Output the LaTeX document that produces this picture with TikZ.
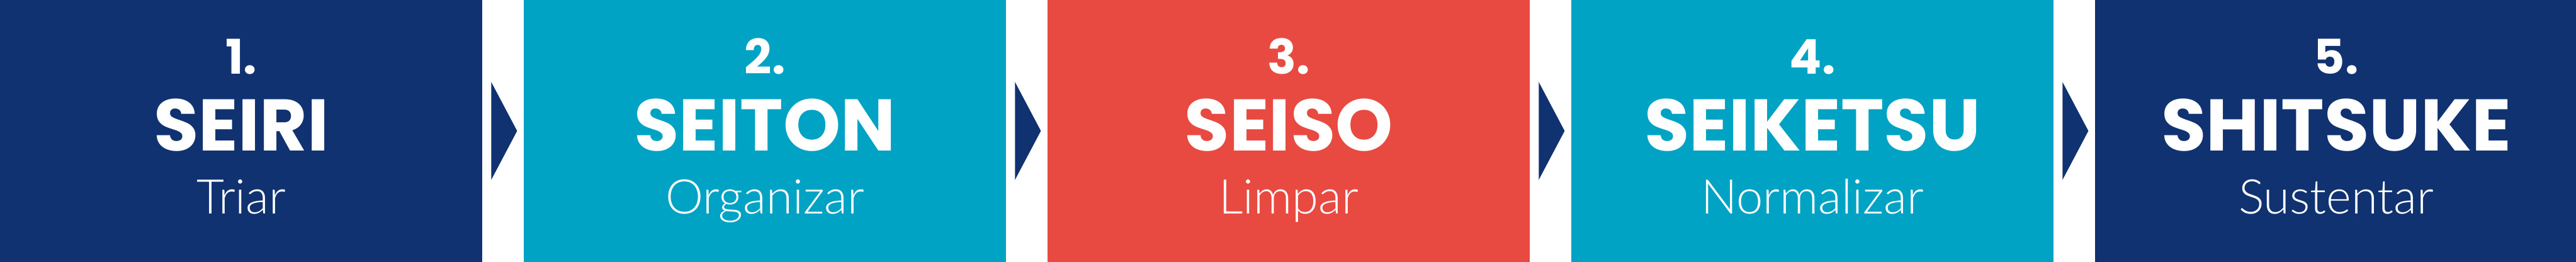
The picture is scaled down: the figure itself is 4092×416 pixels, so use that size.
\documentclass[tikz,border=0pt]{standalone}
\usepackage{fontspec}
\setmainfont{Poppins}
\newfontfamily\lightfont{Lato Light}
\usetikzlibrary{math,positioning,calc}
\definecolor{navyS}{RGB}{17,50,113}
\definecolor{tealS}{RGB}{0,163,196}
\definecolor{redS}{RGB}{232,74,66}

\begin{document}
\begin{tikzpicture}[x=0.01cm,y=0.01cm,
    box/.style={minimum width=7.66cm, minimum height=4.16cm, inner sep=0pt, outer sep=0pt},
    num/.style={text=white, anchor=base, inner sep=0pt, font=\bfseries\fontsize{21.6}{24}\selectfont},
    word/.style={text=white, anchor=base, inner sep=0pt, font=\bfseries\fontsize{33}{36}\selectfont},
    sub/.style={text=white, anchor=base, inner sep=0pt, font=\lightfont\fontsize{21.6}{24}\selectfont}]
      \tikzmath{\gapw = 0.655; \numy = 298; \wordy = 176; \suby = 76; \arrx = 14; \tipx = 55; \arrh = 77.5;}
      \useasboundingbox (0,0) rectangle (4092,416);
      % the five boxes
      \node[box, fill=navyS, anchor=south west] (b1) at (0,0) {};
      \node[box, fill=tealS, right=\gapw cm of b1] (b2) {};
      \node[box, fill=redS, right=\gapw cm of b2] (b3) {};
      \node[box, fill=tealS, right=\gapw cm of b3] (b4) {};
      \node[box, fill=navyS, right=\gapw cm of b4] (b5) {};
      % texts
      \node[num] (n1) at ($(b1.south)+(0,\numy)$) {1.};
      \node[word] (w1) at ($(b1.south)+(0,\wordy)$) {SEIRI};
      \node[sub] (s1) at ($(b1.south)+(0,\suby)$) {Triar};
      \node[num] (n2) at ($(b2.south)+(0,\numy)$) {2.};
      \node[word] (w2) at ($(b2.south)+(0,\wordy)$) {SEITON};
      \node[sub] (s2) at ($(b2.south)+(0,\suby)$) {Organizar};
      \node[num] (n3) at ($(b3.south)+(0,\numy)$) {3.};
      \node[word] (w3) at ($(b3.south)+(0,\wordy)$) {SEISO};
      \node[sub] (s3) at ($(b3.south)+(0,\suby)$) {Limpar};
      \node[num] (n4) at ($(b4.south)+(0,\numy)$) {4.};
      \node[word] (w4) at ($(b4.south)+(0,\wordy)$) {SEIKETSU};
      \node[sub] (s4) at ($(b4.south)+(0,\suby)$) {Normalizar};
      \node[num] (n5) at ($(b5.south)+(0,\numy)$) {5.};
      \node[word] (w5) at ($(b5.south)+(0,\wordy)$) {SHITSUKE};
      \node[sub] (s5) at ($(b5.south)+(0,\suby)$) {Sustentar};
      % arrows between boxes
      \fill[navyS] ($(b1.east)+(\arrx,-\arrh)$) -- ($(b1.east)+(\tipx,0)$) -- ($(b1.east)+(\arrx,\arrh)$) -- cycle;
      \fill[navyS] ($(b2.east)+(\arrx,-\arrh)$) -- ($(b2.east)+(\tipx,0)$) -- ($(b2.east)+(\arrx,\arrh)$) -- cycle;
      \fill[navyS] ($(b3.east)+(\arrx,-\arrh)$) -- ($(b3.east)+(\tipx,0)$) -- ($(b3.east)+(\arrx,\arrh)$) -- cycle;
      \fill[navyS] ($(b4.east)+(\arrx,-\arrh)$) -- ($(b4.east)+(\tipx,0)$) -- ($(b4.east)+(\arrx,\arrh)$) -- cycle;
\end{tikzpicture}
\end{document}
